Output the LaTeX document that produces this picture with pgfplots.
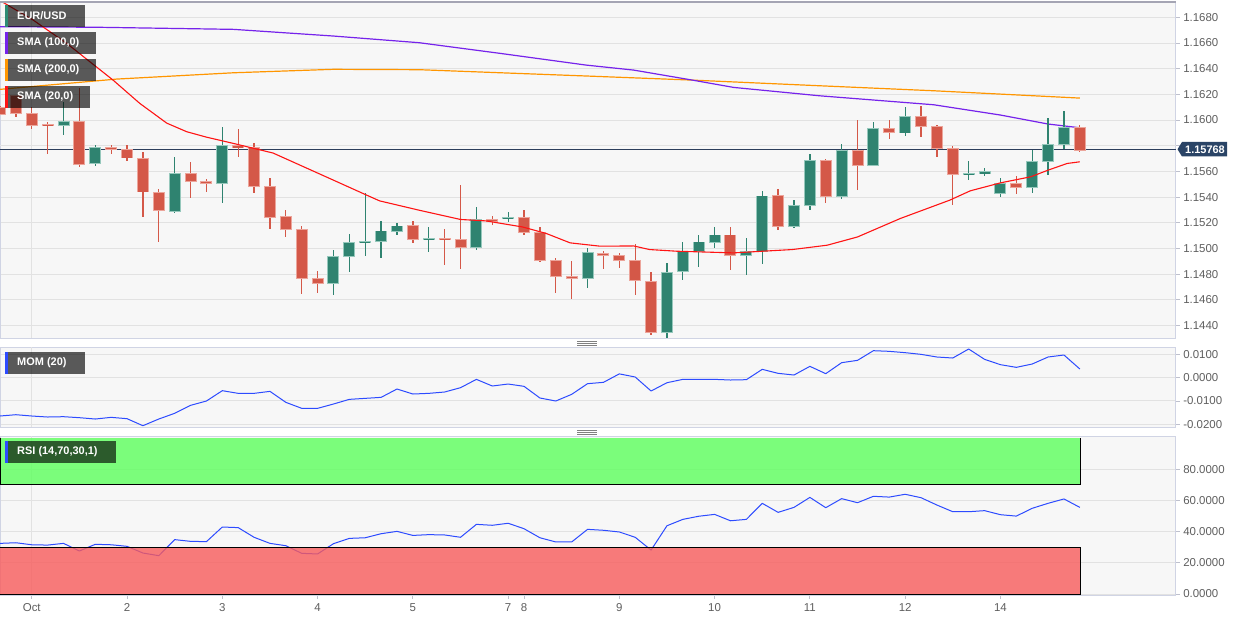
\documentclass[border=0pt]{standalone}
\usepackage{pgfplots}
\pgfplotsset{compat=1.18}
\usepackage{pgfplotstable}
\usepackage{fontspec}
\setmainfont{Liberation Sans}

\definecolor{panelbg}{RGB}{247,247,247}
\definecolor{gridc}{RGB}{226,226,226}
\definecolor{framec}{RGB}{208,212,228}
\definecolor{topc}{RGB}{165,165,180}
\definecolor{labc}{RGB}{95,95,95}
\definecolor{tickc}{RGB}{190,192,205}
\definecolor{cred}{RGB}{212,88,72}
\definecolor{credl}{RGB}{236,165,155}
\definecolor{cgrn}{RGB}{47,131,112}
\definecolor{cgrnl}{RGB}{150,200,188}
\definecolor{smapur}{RGB}{118,35,235}
\definecolor{smaora}{RGB}{255,150,0}
\definecolor{smared}{RGB}{255,20,20}
\definecolor{pline}{RGB}{44,62,92}
\definecolor{tagc}{RGB}{42,68,102}
\definecolor{indblue}{RGB}{45,75,255}
\definecolor{zgreen}{RGB}{93,255,93}
\definecolor{zred}{RGB}{248,91,91}
\definecolor{tealbar}{RGB}{46,139,116}

% k open high low close  (falling candles)
\pgfplotstableread{
k o h l c
0 1.16099 1.16109 1.16039 1.16047
1 1.16187 1.16195 1.16025 1.16052
2 1.16052 1.16103 1.15932 1.15963
3 1.15969 1.15987 1.15740 1.15958
5 1.15990 1.16247 1.15639 1.15659
7 1.15787 1.15810 1.15735 1.15774
8 1.15768 1.15810 1.15683 1.15706
9 1.15704 1.15753 1.15249 1.15441
10 1.15436 1.15460 1.15055 1.15296
12 1.15587 1.15678 1.15397 1.15524
13 1.15519 1.15540 1.15441 1.15509
15 1.15800 1.15930 1.15709 1.15784
16 1.15784 1.15818 1.15429 1.15483
17 1.15480 1.15553 1.15156 1.15244
18 1.15252 1.15298 1.15094 1.15150
19 1.15148 1.15174 1.14646 1.14769
20 1.14769 1.14823 1.14654 1.14732
26 1.15176 1.15213 1.15044 1.15070
28 1.15080 1.15153 1.14875 1.15070
29 1.15070 1.15499 1.14844 1.15008
31 1.15228 1.15257 1.15182 1.15213
33 1.15242 1.15304 1.15109 1.15129
34 1.15127 1.15164 1.14896 1.14911
35 1.14907 1.14930 1.14657 1.14784
36 1.14782 1.14907 1.14605 1.14771
38 1.14961 1.14979 1.14844 1.14948
39 1.14946 1.14966 1.14852 1.14907
40 1.14907 1.15039 1.14642 1.14751
41 1.14745 1.14821 1.14332 1.14350
46 1.15106 1.15166 1.14836 1.14946
49 1.15410 1.15460 1.15145 1.15176
52 1.15683 1.15696 1.15351 1.15405
54 1.15766 1.16000 1.15454 1.15649
56 1.15935 1.15997 1.15849 1.15901
58 1.16026 1.16109 1.15867 1.15953
59 1.15951 1.15961 1.15714 1.15779
60 1.15779 1.15803 1.15340 1.15579
64 1.15507 1.15563 1.15429 1.15475
68 1.15945 1.15961 1.15748 1.15768
}\down

% rising candles
\pgfplotstableread{
k o h l c
4 1.15961 1.16142 1.15888 1.15990
6 1.15659 1.15810 1.15639 1.15787
11 1.15293 1.15711 1.15277 1.15587
14 1.15509 1.15945 1.15359 1.15800
21 1.14730 1.14987 1.14642 1.14940
22 1.14940 1.15112 1.14821 1.15047
23 1.15047 1.15431 1.14942 1.15057
24 1.15057 1.15213 1.14930 1.15137
25 1.15137 1.15200 1.15106 1.15176
27 1.15067 1.15168 1.14977 1.15080
30 1.15008 1.15324 1.14992 1.15226
32 1.15231 1.15285 1.15203 1.15242
37 1.14771 1.15002 1.14696 1.14966
42 1.14350 1.14888 1.14307 1.14813
43 1.14821 1.15049 1.14759 1.14977
44 1.14977 1.15101 1.14852 1.15051
45 1.15051 1.15166 1.15008 1.15106
47 1.14946 1.15086 1.14798 1.14979
48 1.14979 1.15447 1.14880 1.15410
50 1.15176 1.15376 1.15161 1.15335
51 1.15335 1.15733 1.15304 1.15683
53 1.15405 1.15818 1.15384 1.15766
55 1.15649 1.15982 1.15641 1.15932
57 1.15901 1.16101 1.15877 1.16026
61 1.15576 1.15678 1.15530 1.15584
62 1.15581 1.15623 1.15563 1.15602
63 1.15429 1.15548 1.15402 1.15507
65 1.15475 1.15764 1.15433 1.15678
66 1.15678 1.16015 1.15571 1.15810
67 1.15810 1.16070 1.15774 1.15945
}\up

\pgfplotsset{
  panel/.style={
    scale only axis, width=1175.7bp, xmin=0, xmax=74.04,
    axis background/.style={fill=panelbg},
    axis line style={draw=framec, line width=0.8bp},
    ymajorgrids, major grid style={draw=gridc, line width=0.9bp},
    yticklabel pos=right, ytick pos=right, xtick pos=bottom,
    tick align=outside, major tick length=4bp,
    tick style={draw=tickc, line width=0.8bp},
    yticklabel style={font=\fontsize{11.5}{13}\selectfont, text=labc},
    scaled y ticks=false,
    xtick=\empty,
    extra x ticks={2}, extra x tick labels={},
    extra x tick style={grid=major, major tick length=0pt},
    /pgf/number format/fixed, /pgf/number format/fixed zerofill,
    /pgf/number format/precision=4, /pgf/number format/assume math mode=true,
  },
  wick/.style 2 args={forget plot, draw=none, mark=none,
    error bars/.cd, y dir=both, y explicit, error mark=none,
    error bar style={draw=#1, line width=#2}},
}

\begin{document}
\begin{tikzpicture}[x=1bp,y=-1bp]
\path[use as bounding box, fill=white] (0,0) rectangle (1246,621);

% ---------------- main price panel ----------------
\begin{axis}[panel, at={(0bp,-2bp)}, anchor=north west, height=336.3bp,
  ymin=1.14301, ymax=1.16919,
  ytick={1.144,1.146,1.148,1.150,1.152,1.154,1.156,1.160,1.162,1.164,1.166,1.168},
  extra y ticks={1.158}, extra y tick labels={}, extra y tick style={ymajorgrids}]
% SMA 200
\addplot[smaora, line width=1.2bp, line join=round] coordinates {
(0,1.16239) (7.35,1.16319) (14.7,1.16368) (21,1.16395) (26.4,1.16392) (36.9,1.16343)
(43.6,1.16311) (51.6,1.16267) (58.8,1.16228) (68,1.16171)};
% SMA 100
\addplot[smapur, line width=1.2bp, line join=round] coordinates {
(0,1.16727) (6.3,1.16722) (14.7,1.16706) (21,1.16654) (26.4,1.16602) (31.5,1.16519)
(36.9,1.16428) (39.9,1.16389) (43.6,1.16311) (46.2,1.16254) (51.6,1.16189) (58.8,1.16119)
(63,1.16039) (66,1.15969) (68,1.15940)};
% price line
\addplot[pline, line width=1bp] coordinates {(0,1.15768) (74.04,1.15768)};
% wicks
\addplot[wick={cred}{1.3bp}] table[x=k, y expr={(\thisrow{h}+\thisrow{l})/2}, y error expr={(\thisrow{h}-\thisrow{l})/2}] {\down};
\addplot[wick={cgrn}{1.3bp}] table[x=k, y expr={(\thisrow{h}+\thisrow{l})/2}, y error expr={(\thisrow{h}-\thisrow{l})/2}] {\up};
% bodies (light rim, then fill)
\addplot[wick={credl}{12bp}] table[x=k, y expr={(\thisrow{o}+\thisrow{c})/2}, y error expr={max(abs(\thisrow{o}-\thisrow{c})/2,0.00006)+0.00004}] {\down};
\addplot[wick={cred}{10bp}] table[x=k, y expr={(\thisrow{o}+\thisrow{c})/2}, y error expr={max(abs(\thisrow{o}-\thisrow{c})/2,0.00006)-0.00003}] {\down};
\addplot[wick={cgrnl}{12bp}] table[x=k, y expr={(\thisrow{o}+\thisrow{c})/2}, y error expr={max(abs(\thisrow{o}-\thisrow{c})/2,0.00006)+0.00004}] {\up};
\addplot[wick={cgrn}{10bp}] table[x=k, y expr={(\thisrow{o}+\thisrow{c})/2}, y error expr={max(abs(\thisrow{o}-\thisrow{c})/2,0.00006)-0.00003}] {\up};
% SMA 20
\addplot[smared, line width=1.1bp, line join=round] coordinates {
(0,1.16930) (2.08,1.16779) (4.2,1.16597) (7.12,1.16311) (8.8,1.16130) (10.5,1.15976)
(11.76,1.15909) (13.0,1.15867) (14.7,1.15818) (15.9,1.15782) (17.2,1.15743) (21.0,1.15532)
(23.1,1.15415) (23.9,1.15371) (26.4,1.15298) (29.0,1.15226) (30.6,1.15215) (32.9,1.15168)
(34.4,1.15117) (35.9,1.15044) (37.8,1.15018) (39.9,1.15020) (40.9,1.14992) (42.6,1.14979)
(46.2,1.14966) (49.9,1.14992) (52.1,1.15026) (54.0,1.15090) (56.7,1.15234) (59.8,1.15376)
(61.1,1.15449) (63.0,1.15511) (64.9,1.15558) (66.0,1.15610) (67.2,1.15662) (68,1.15675)};
\end{axis}

% ---------------- MOM panel ----------------
\begin{axis}[panel, at={(0bp,-347.3bp)}, anchor=north west, height=80bp,
  ymin=-0.0213, ymax=0.01299, ytick={-0.02,-0.01,0,0.01}]
\addplot[indblue, line width=1bp, line join=round] coordinates {
(0,-0.01646) (1,-0.0159) (2,-0.01646) (3,-0.01689) (4,-0.01675) (5,-0.01718) (6,-0.01775)
(7,-0.01703) (8,-0.01761) (9,-0.02061) (10,-0.01775) (11,-0.0153) (12,-0.01189) (13,-0.01003)
(14,-0.0056) (15,-0.00675) (16,-0.00675) (17,-0.00589) (18,-0.0106) (19,-0.01317) (20,-0.01317)
(21,-0.01132) (22,-0.00932) (23,-0.00889) (24,-0.00846) (25,-0.00489) (26,-0.00703) (27,-0.00675)
(28,-0.00617) (29,-0.00432) (30,-0.00075) (31,-0.0036) (32,-0.00275) (33,-0.00374) (34,-0.00874)
(35,-0.01003) (36,-0.00717) (37,-0.0026) (38,-0.00203) (39,0.0016) (40,0.00026) (41,-0.00574)
(42,-0.00219) (43,-0.00075) (44,-0.00075) (45,-0.00075) (46,-0.00103) (47,-0.00089) (48,0.00354)
(49,0.00183) (50,0.00111) (51,0.00483) (52,0.00169) (53,0.0064) (54,0.0074) (55,0.01154)
(56,0.01126) (57,0.01069) (58,0.00997) (59,0.00883) (60,0.0084) (61,0.01226) (62,0.00783)
(63,0.00554) (64,0.0044) (65,0.00583) (66,0.00883) (67,0.00969) (68,0.00369)};
\end{axis}

% ---------------- RSI panel ----------------
\begin{axis}[panel, at={(0bp,-436bp)}, anchor=north west, height=159bp,
  ymin=-0.64, ymax=101.4, ytick={0,20,40,60,80},
  xtick={2,8,14,20,26,32,33,39,45,51,57,63},
  xticklabels={Oct,2,3,4,5,7,8,9,10,11,12,14},
  xticklabel style={font=\fontsize{11.5}{13}\selectfont, text=labc, yshift=-1bp}]
\addplot[indblue, line width=1bp, line join=round] coordinates {
(0,32.5) (1,32.9) (2,31.6) (3,31.4) (4,32.5) (5,27.6) (6,31.9) (7,31.6) (8,30.6) (9,26.3)
(10,24.6) (11,34.9) (12,33.8) (13,33.6) (14,43.0) (15,42.6) (16,36.4) (17,32.5) (18,31.0)
(19,26.1) (20,25.7) (21,32.3) (22,35.7) (23,36.1) (24,38.7) (25,40.2) (26,37.6) (27,38.1)
(28,37.9) (29,36.4) (30,44.7) (31,44.1) (32,45.4) (33,41.9) (34,36.1) (35,33.4) (36,33.4)
(37,41.5) (38,40.9) (39,39.8) (40,36.4) (41,28.2) (42,43.8) (43,47.9) (44,49.9) (45,51.1)
(46,47.0) (47,47.9) (48,58.2) (49,52.4) (50,55.6) (51,62.0) (52,55.4) (53,61.2) (54,58.6)
(55,62.7) (56,62.2) (57,64.0) (58,61.8) (59,57.1) (60,52.8) (61,52.8) (62,53.5) (63,50.9)
(64,50.0) (65,55.0) (66,58.2) (67,61.0) (68,55.6)};
% overbought / oversold zones
\addplot[fill=zgreen, fill opacity=0.8, draw=black, line width=0.9bp] coordinates {
(0,99.9) (0,70) (68.06,70) (68.06,99.9)};
\addplot[fill=zred, fill opacity=0.8, draw=black, line width=0.9bp] coordinates {
(0,30) (68.06,30) (68.06,0) (0,0)};
\end{axis}

% top frame line of the price panel
\draw[topc, line width=1.3bp] (0,2) -- (1175.7,2);

% panel handles
\foreach \yy in {341.3,343.3,345.3,430,432,434} \draw[gray, line width=0.7bp] (577,\yy) -- (597,\yy);

% legend boxes
\begin{scope}[font=\bfseries\fontsize{11}{13}\selectfont]
\fill[black, fill opacity=0.64] (5,5) rectangle (85,26.7);
\fill[tealbar] (5,5) rectangle (8,26.7);
\node[anchor=west, text=white, inner sep=0] at (17,16) {EUR/USD};
\fill[black, fill opacity=0.64] (5,32) rectangle (96,53.7);
\fill[smapur] (5,32) rectangle (8,53.7);
\node[anchor=west, text=white, inner sep=0] at (17,43) {SMA (100,0)};
\fill[black, fill opacity=0.64] (5,59) rectangle (96,80.7);
\fill[smaora] (5,59) rectangle (8,80.7);
\node[anchor=west, text=white, inner sep=0] at (17,70) {SMA (200,0)};
\fill[black, fill opacity=0.64] (5,86) rectangle (90,107.7);
\fill[smared] (5,86) rectangle (8,107.7);
\node[anchor=west, text=white, inner sep=0] at (17,97) {SMA (20,0)};
\fill[black, fill opacity=0.64] (5,352) rectangle (85,373.7);
\fill[indblue] (5,352) rectangle (8,373.7);
\node[anchor=west, text=white, inner sep=0] at (17,363) {MOM (20)};
\fill[black, fill opacity=0.64] (5,441) rectangle (115.5,462.7);
\fill[indblue] (5,441) rectangle (8,462.7);
\node[anchor=west, text=white, inner sep=0] at (17,452) {RSI (14,70,30,1)};
\end{scope}

% price tag
\fill[tagc] (1177.5,149.3) -- (1182,142) -- (1227,142) -- (1227,156.5) -- (1182,156.5) -- cycle;
\node[text=white, font=\bfseries\fontsize{11}{13}\selectfont, inner sep=0] at (1205,149.5) {1.15768};
\end{tikzpicture}
\end{document}
